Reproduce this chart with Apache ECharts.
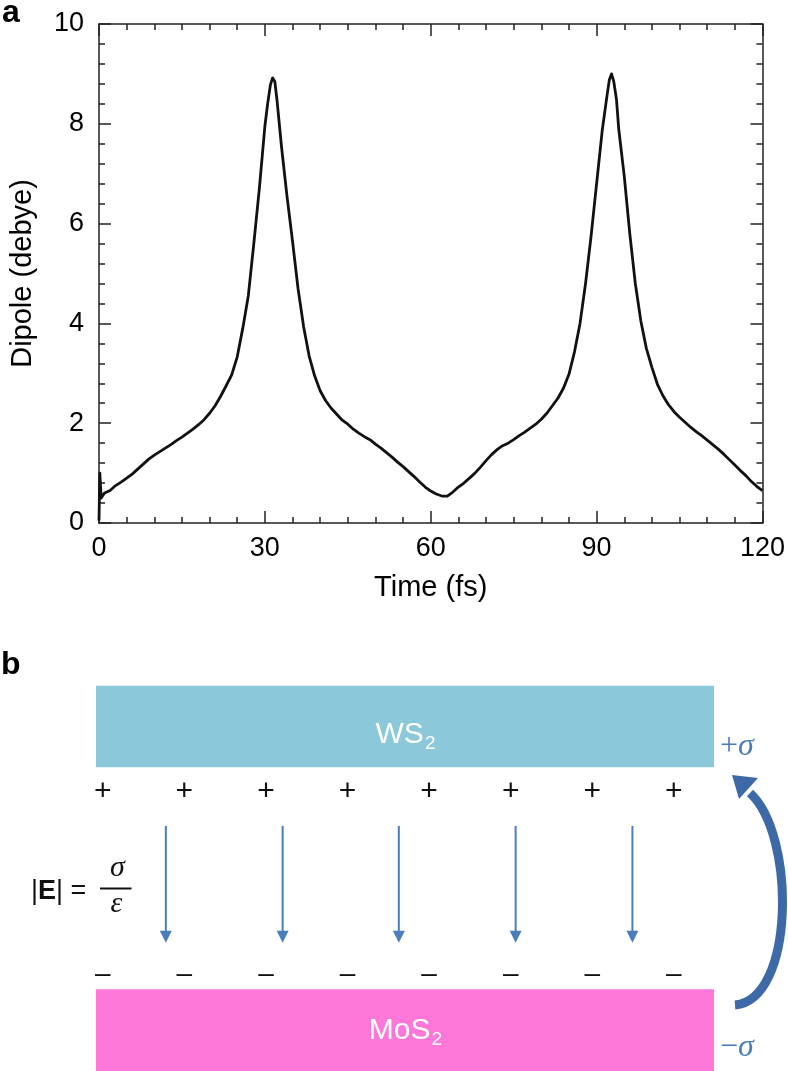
<!DOCTYPE html>
<html><head><meta charset="utf-8">
<script src="https://cdn.jsdelivr.net/npm/echarts@6/dist/echarts.min.js"></script>
<style>html,body{margin:0;padding:0;background:#fff}#c{width:788px;height:1071px}</style>
</head><body><div id="c"></div>
<script>
// ---------- Panel a data: dipole (debye) vs time (fs) ----------
const time = [0,0.15,0.4,1,2,3,4,5,6,7,8,9,10,11,12,13,14,15,16,17,18,19,20,21,22,23,24,25,26,27,28,29,30,30.5,31,31.4,31.8,32.2,33,
  34,35,36,37,38,39,40,41,42,43,44,45,46,47,48,49,50,51,52,53,54,55,56,57,58,59,60,61,62,63,64,65,66,67,68,69,70,
  71,72,73,74,75,76,77,78,79,80,81,82,83,84,85,86,87,88,89,90,91,91.8,92.3,92.7,93.1,93.6,
  94,95,96,97,98,99,100,101,102,103,104,105,106,107,108,109,110,111,112,113,114,115,116,117,118,119,120];
const dipole = [0.05,1.0,0.5,0.6,0.65,0.75,0.82,0.9,0.98,1.08,1.18,1.28,1.36,1.43,1.5,1.57,1.65,1.72,1.8,1.88,1.97,2.07,2.2,2.35,2.54,2.75,2.97,3.33,3.9,4.55,5.6,6.7,7.95,8.4,8.78,8.92,8.85,8.47,7.55,
  6.55,5.65,4.7,3.94,3.35,2.95,2.65,2.45,2.3,2.18,2.06,1.98,1.88,1.8,1.73,1.67,1.58,1.5,1.41,1.32,1.22,1.13,1.03,0.93,0.82,0.72,0.64,0.58,0.54,0.54,0.62,0.72,0.8,0.9,1.0,1.12,1.25,
  1.37,1.47,1.55,1.6,1.67,1.75,1.82,1.9,1.98,2.08,2.2,2.35,2.5,2.7,2.98,3.43,4.0,4.8,5.75,6.8,7.85,8.5,8.88,9.0,8.85,8.48,
  7.9,6.95,5.8,4.8,4.05,3.5,3.12,2.78,2.55,2.37,2.23,2.12,2.02,1.92,1.83,1.75,1.66,1.57,1.48,1.38,1.27,1.16,1.05,0.95,0.83,0.73,0.65];
const xTickStep = 30;
const yTickStep = 2;

// ---------- Panel b schematic (diagram units: x 0-100 across layer width, y 0-100 top to bottom) ----------
const layerNames = ['WS', 'MoS'];
const layerSubs = ['2', '2'];
const layerLeft = [0, 0];
const layerRight = [100, 100];
const layerTop = [0.2, 78.8];
const layerBottom = [21.3, 100];
const layerLabelY = [13, 89.6];
const chargeX = [1.1, 14.3, 27.5, 40.7, 53.9, 67.1, 80.3, 93.5];
const plusRowY = 27.6;
const minusRowY = 75.0;
const fieldArrowX = [11.3, 30.2, 49.0, 67.9, 86.8];
const fieldArrowTop = 36.5;
const fieldArrowTip = 66.8;

// ---------- styles ----------
const FONT = '"Liberation Sans", Arial, Helvetica, sans-serif';
const SERIF = '"Liberation Serif", "Times New Roman", serif';
const AX = '#222';
const LAYER_COLORS = ['#8bc9da', '#fd77d8'];
const BLUE = '#4a7ebb';
const DARKBLUE = '#3d6aa6';

const measure = (() => {
  const ctx = document.createElement('canvas').getContext('2d');
  return (text, font) => { ctx.font = font; return ctx.measureText(text).width; };
})();

const axisCommon = {
  axisLine: { onZero: false, lineStyle: { color: AX, width: 1.5 } },
  axisTick: { inside: true, length: 12, lineStyle: { color: AX, width: 1.5 } },
  splitLine: { show: false },
  minorSplitLine: { show: false }
};

const chart = echarts.init(document.getElementById('c'), null, { renderer: 'canvas' });
const option = {
  animation: false,
  backgroundColor: '#fff',
  textStyle: { fontFamily: FONT },
  grid: [
    { left: 98, right: 25, top: 24, bottom: 548 },
    { left: 96, top: 685, width: 618, height: 386 }
  ],
  xAxis: [
    Object.assign({}, axisCommon, {
      gridIndex: 0, type: 'value', min: 0, max: 120, interval: xTickStep, position: 'bottom',
      name: 'Time (fs)', nameLocation: 'middle', nameGap: 50,
      nameTextStyle: { fontSize: 29, color: '#000', fontFamily: FONT },
      minorTick: { show: true, splitNumber: 6, length: 6, lineStyle: { color: AX, width: 1.5 } },
      axisLabel: { fontSize: 27, color: '#000', margin: 12, fontFamily: FONT }
    }),
    Object.assign({}, axisCommon, {
      gridIndex: 0, type: 'value', min: 0, max: 120, interval: xTickStep, position: 'top',
      minorTick: { show: true, splitNumber: 6, length: 6, lineStyle: { color: AX, width: 1.5 } },
      axisLabel: { show: false }
    }),
    { gridIndex: 1, type: 'value', min: 0, max: 100, show: false }
  ],
  yAxis: [
    Object.assign({}, axisCommon, {
      gridIndex: 0, type: 'value', min: 0, max: 10, interval: yTickStep, position: 'left',
      name: 'Dipole (debye)', nameLocation: 'middle', nameGap: 62,
      nameTextStyle: { fontSize: 29, color: '#000', fontFamily: FONT },
      minorTick: { show: true, splitNumber: 5, length: 6, lineStyle: { color: AX, width: 1.5 } },
      axisLabel: { fontSize: 27, color: '#000', margin: 15, fontFamily: FONT }
    }),
    Object.assign({}, axisCommon, {
      gridIndex: 0, type: 'value', min: 0, max: 10, interval: yTickStep, position: 'right',
      minorTick: { show: true, splitNumber: 5, length: 6, lineStyle: { color: AX, width: 1.5 } },
      axisLabel: { show: false }
    }),
    { gridIndex: 1, type: 'value', min: 0, max: 100, inverse: true, show: false }
  ],
  series: [
    {
      type: 'line', xAxisIndex: 0, yAxisIndex: 0,
      data: time.map((t, i) => [t, dipole[i]]),
      showSymbol: false, symbol: 'none',
      lineStyle: { color: '#111', width: 2.8, join: 'round' },
      z: 5
    },
    {
      type: 'custom', xAxisIndex: 2, yAxisIndex: 2, silent: true,
      data: layerNames.map((n, i) => [layerLeft[i], layerRight[i], layerTop[i], layerBottom[i], layerLabelY[i]]),
      renderItem: (params, api) => {
        const i = params.dataIndex;
        const p0 = api.coord([api.value(0), api.value(2)]);
        const p1 = api.coord([api.value(1), api.value(3)]);
        const lc = api.coord([(api.value(0) + api.value(1)) / 2, api.value(4)]);
        const mainFont = '30px ' + FONT, subFont = '19px ' + FONT;
        const wm = measure(layerNames[i], mainFont), ws = measure(layerSubs[i], subFont);
        const x0 = lc[0] - (wm + ws) / 2;
        return { type: 'group', children: [
          { type: 'rect', shape: { x: p0[0], y: p0[1], width: p1[0] - p0[0], height: p1[1] - p0[1] }, style: { fill: LAYER_COLORS[i] } },
          { type: 'text', x: x0, y: lc[1], style: { text: layerNames[i], align: 'left', verticalAlign: 'middle', fill: '#fff', font: mainFont } },
          { type: 'text', x: x0 + wm + 1, y: lc[1] + 9, style: { text: layerSubs[i], align: 'left', verticalAlign: 'middle', fill: '#fff', font: subFont } }
        ] };
      }
    },
    {
      type: 'custom', xAxisIndex: 2, yAxisIndex: 2, silent: true,
      data: chargeX.map(x => [x, plusRowY]),
      renderItem: (params, api) => {
        const c = api.coord([api.value(0), api.value(1)]);
        return { type: 'text', x: c[0], y: c[1], style: { text: '+', align: 'center', verticalAlign: 'middle', fill: '#111', font: '30px ' + FONT } };
      }
    },
    {
      type: 'custom', xAxisIndex: 2, yAxisIndex: 2, silent: true,
      data: chargeX.map(x => [x, minusRowY]),
      renderItem: (params, api) => {
        const c = api.coord([api.value(0), api.value(1)]);
        return { type: 'text', x: c[0], y: c[1], style: { text: '\u2013', align: 'center', verticalAlign: 'middle', fill: '#111', font: '28px ' + FONT } };
      }
    },
    {
      type: 'custom', xAxisIndex: 2, yAxisIndex: 2, silent: true,
      data: fieldArrowX.map(x => [x, fieldArrowTop, fieldArrowTip]),
      renderItem: (params, api) => {
        const a = api.coord([api.value(0), api.value(1)]);
        const b = api.coord([api.value(0), api.value(2)]);
        return { type: 'group', children: [
          { type: 'line', shape: { x1: a[0], y1: a[1], x2: b[0], y2: b[1] - 10 }, style: { stroke: BLUE, lineWidth: 2 } },
          { type: 'polygon', shape: { points: [[b[0] - 6, b[1] - 12], [b[0] + 6, b[1] - 12], [b[0], b[1]]] }, style: { fill: BLUE } }
        ] };
      }
    }
  ],
  graphic: [
    { type: 'text', x: 2, y: 13, style: { text: 'a', font: 'bold 32px ' + FONT, fill: '#000', verticalAlign: 'middle' } },
    { type: 'text', x: 1, y: 665, style: { text: 'b', font: 'bold 32px ' + FONT, fill: '#000', verticalAlign: 'middle' } },
    { type: 'text', x: 31, y: 892, style: {
        text: '{n||}{b|E}{n||}{n| =}', verticalAlign: 'middle', fill: '#111',
        rich: { n: { fontSize: 27, fontFamily: FONT, fill: '#111' }, b: { fontSize: 27, fontWeight: 'bold', fontFamily: FONT, fill: '#111' } } } },
    { type: 'text', x: 117.5, y: 868, style: { text: 'σ', align: 'center', verticalAlign: 'middle', font: 'italic 30px ' + SERIF, fill: '#111' } },
    { type: 'line', shape: { x1: 100, y1: 888.5, x2: 131.5, y2: 888.5 }, style: { stroke: '#111', lineWidth: 2 } },
    { type: 'text', x: 116.5, y: 904.5, style: { text: 'ε', align: 'center', verticalAlign: 'middle', font: 'italic 30px ' + SERIF, fill: '#111' } },
    { type: 'text', x: 720, y: 747, style: {
        text: '{p|+}{s|σ}', verticalAlign: 'middle',
        rich: { p: { fontSize: 32, fontFamily: SERIF, fill: BLUE }, s: { fontSize: 32, fontFamily: SERIF, fontStyle: 'italic', fill: BLUE } } } },
    { type: 'text', x: 720, y: 1048, style: {
        text: '{p|\u2212}{s|σ}', verticalAlign: 'middle',
        rich: { p: { fontSize: 32, fontFamily: SERIF, fill: BLUE }, s: { fontSize: 32, fontFamily: SERIF, fontStyle: 'italic', fill: BLUE } } } },
    { type: 'bezierCurve', shape: { x1: 735, y1: 1005, cpx1: 795, cpy1: 1000, cpx2: 796, cpy2: 835, x2: 750, y2: 793 },
      style: { stroke: DARKBLUE, lineWidth: 9, fill: null, lineCap: 'butt' } },
    { type: 'polygon', shape: { points: [[732, 775], [758, 778], [739, 799]] }, style: { fill: DARKBLUE } }
  ]
};
chart.setOption(option);
</script>
</body></html>
